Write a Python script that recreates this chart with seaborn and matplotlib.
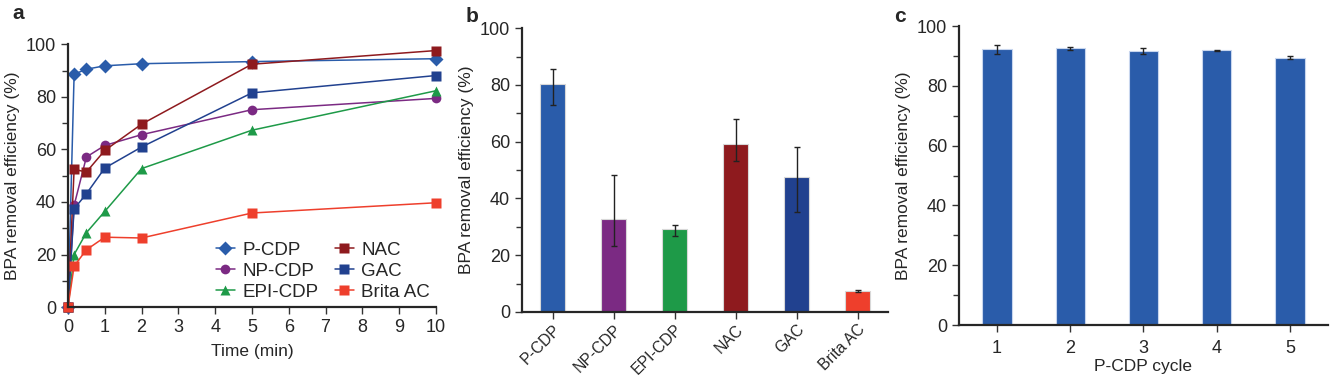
import matplotlib
matplotlib.use("Agg")
import matplotlib.pyplot as plt
from matplotlib.ticker import MultipleLocator
import seaborn as sns
import numpy as np
import pandas as pd

# ---- dados ----
tempo = [0, 1 / 6, 0.5, 1, 2, 5, 10]
materiais = ["P-CDP", "NP-CDP", "EPI-CDP", "NAC", "GAC", "Brita AC"]
p_cdp = [0, 88.6, 90.5, 91.8, 92.6, 93.4, 94.5]
np_cdp = [0, 38.7, 57.1, 61.5, 65.6, 75.1, 79.4]
epi_cdp = [0, 20.0, 28.3, 36.4, 52.7, 67.3, 82.3]
nac = [0, 52.4, 51.4, 59.6, 69.6, 92.4, 97.6]
gac = [0, 37.4, 43.1, 52.9, 60.9, 81.5, 88.1]
brita = [0, 15.6, 21.8, 26.6, 26.3, 35.8, 39.7]

eficiencia_b = [80.2, 32.6, 29.2, 59.1, 47.4, 7.5]
erro_b_inf = [7.3, 9.3, 2.6, 6.0, 12.2, 0.3]
erro_b_sup = [5.3, 15.6, 1.6, 8.8, 10.6, 0.3]

ciclos = ["1", "2", "3", "4", "5"]
eficiencia_c = [92.2, 92.6, 91.6, 91.9, 89.4]
erro_c = [1.6, 0.5, 1.0, 0.2, 0.5]

cores = {"P-CDP": "#2a5caa", "NP-CDP": "#7b2a83", "EPI-CDP": "#1e9a48",
         "NAC": "#8e1a1e", "GAC": "#21418f", "Brita AC": "#ee3f2c"}
marcadores = {"P-CDP": "D", "NP-CDP": "o", "EPI-CDP": "^",
              "NAC": "s", "GAC": "s", "Brita AC": "s"}

sns.set_style("ticks")
plt.rcParams["font.family"] = ["Liberation Sans", "DejaVu Sans"]
plt.rcParams["font.size"] = 12

fig = plt.figure(figsize=(13.33, 3.75), dpi=100)
axA = fig.add_axes([0.051, 0.181, 0.276, 0.701])
axB = fig.add_axes([0.3916, 0.168, 0.2746, 0.757])
axC = fig.add_axes([0.7194, 0.1333, 0.2768, 0.797])

# ---- painel a ----
series = [p_cdp, np_cdp, epi_cdp, nac, gac, brita]
df = pd.DataFrame({
    "tempo": np.tile(tempo, len(materiais)),
    "eficiencia": np.concatenate(series),
    "material": np.repeat(materiais, len(tempo)),
})
sns.lineplot(data=df, x="tempo", y="eficiencia", hue="material", style="material",
             hue_order=materiais, style_order=materiais, palette=cores,
             markers=marcadores, dashes=False, markersize=7, linewidth=1.1,
             markeredgecolor="none", clip_on=False, ax=axA)
handles, labels = axA.get_legend_handles_labels()
axA.legend(handles, labels, ncol=2, frameon=False, loc="lower right",
           bbox_to_anchor=(1.03, -0.04), handlelength=1.0, handletextpad=0.4,
           columnspacing=0.9, labelspacing=0.2, fontsize=13.5)
axA.set_xlim(0, 10)
axA.set_ylim(0, 100)
axA.set_xticks(range(0, 11))
axA.yaxis.set_major_locator(MultipleLocator(20))
axA.yaxis.set_minor_locator(MultipleLocator(10))
axA.set_xlabel("Time (min)", fontsize=12.5, labelpad=6)
axA.set_ylabel("BPA removal efficiency (%)", fontsize=12.5)

# ---- painel b ----
dfb = pd.DataFrame({"material": materiais, "eficiencia": eficiencia_b})
sns.barplot(data=dfb, x="material", y="eficiencia", hue="material",
            palette=cores, width=0.41, errorbar=None, legend=False, saturation=1,
            edgecolor="#d8d8d8", linewidth=0.8, ax=axB)
axB.errorbar(range(len(materiais)), eficiencia_b, yerr=[erro_b_inf, erro_b_sup],
             fmt="none", ecolor="#222222", elinewidth=1, capsize=2, capthick=1)
axB.set_xlim(-0.5, 5.5)
axB.set_ylim(0, 100)
axB.yaxis.set_major_locator(MultipleLocator(20))
axB.yaxis.set_minor_locator(MultipleLocator(10))
axB.tick_params(axis="x", length=0, pad=2)
axB.set_xlabel("")
axB.set_ylabel("BPA removal efficiency (%)", fontsize=12.5)

# ---- painel c ----
dfc = pd.DataFrame({"ciclo": ciclos, "eficiencia": eficiencia_c})
sns.barplot(data=dfc, x="ciclo", y="eficiencia", color="#2a5caa", width=0.4,
            errorbar=None, edgecolor="#c8d6ee", linewidth=0.8, saturation=1, ax=axC)
axC.errorbar(range(len(ciclos)), eficiencia_c, yerr=erro_c, fmt="none",
             ecolor="#222222", elinewidth=1, capsize=2, capthick=1)
axC.set_xlim(-0.52, 4.52)
axC.set_ylim(0, 100)
axC.yaxis.set_major_locator(MultipleLocator(20))
axC.yaxis.set_minor_locator(MultipleLocator(10))
axC.tick_params(axis="x", length=0, pad=6)
axC.set_xlabel("P-CDP cycle", fontsize=12.5, labelpad=1)
axC.set_ylabel("BPA removal efficiency (%)", fontsize=12.5)

for ax in (axA, axB, axC):
    sns.despine(ax=ax)
    ax.spines["left"].set_linewidth(1.6)
    ax.spines["bottom"].set_linewidth(1.6)
    ax.tick_params(axis="both", which="major", labelsize=13, width=1, length=5,
                   color="#333333")
    ax.tick_params(axis="y", which="minor", width=1, length=4, color="#333333")

plt.setp(axB.get_xticklabels(), rotation=45, ha="right", rotation_mode="anchor",
         fontsize=11.3)

fig.text(0.009, 0.965, "a", fontsize=15, fontweight="bold", va="center")
fig.text(0.349, 0.955, "b", fontsize=15, fontweight="bold", va="center")
fig.text(0.671, 0.955, "c", fontsize=15, fontweight="bold", va="center")

fig.savefig("out.png", dpi=100)
